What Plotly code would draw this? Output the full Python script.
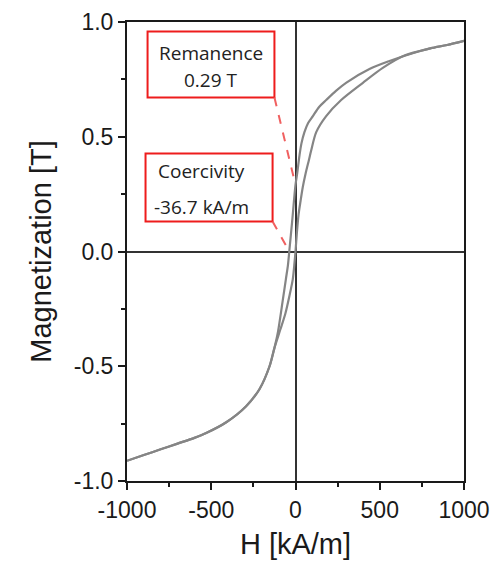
import plotly.graph_objects as go

# Descending branch (outer curve), H in kA/m, M in T
h_desc = [1000, 900, 800, 700, 558, 439, 300, 240, 182, 140, 103, 75, 53, 35, 24, 10, 0,
          -20, -37, -45, -57, -75, -105, -125, -154, -214, -293, -411, -530, -600, -700, -800, -900, -1000]
m_desc = [0.918, 0.90, 0.885, 0.865, 0.83, 0.795, 0.735, 0.70, 0.66, 0.63, 0.59, 0.56, 0.52, 0.47, 0.42, 0.34, 0.29,
          0.13, 0.0, -0.06, -0.12, -0.21, -0.354, -0.42, -0.50, -0.60, -0.674, -0.744, -0.791, -0.812, -0.837, -0.862, -0.887, -0.912]

# Ascending branch (inner curve)
h_asc = [-1000, -900, -800, -700, -600, -530, -411, -293, -214, -154, -125, -90, -60, -35, -16, -6, 0,
         8, 18, 30, 43, 60, 80, 93, 123, 182, 271, 400, 518, 650, 800, 900, 1000]
m_asc = [-0.912, -0.887, -0.862, -0.837, -0.812, -0.791, -0.744, -0.674, -0.60, -0.50, -0.42, -0.34, -0.27, -0.19, -0.12, -0.05, 0.0,
         0.08, 0.16, 0.22, 0.28, 0.34, 0.40, 0.44, 0.52, 0.59, 0.66, 0.735, 0.80, 0.855, 0.885, 0.90, 0.918]

x_ticks = [-1000, -500, 0, 500, 1000]
y_ticks = [-1.0, -0.5, 0.0, 0.5, 1.0]
y_tick_labels = ["-1.0", "-0.5", "0.0", "0.5", "1.0"]

remanence = 0.29
coercivity = -36.7

fig = go.Figure()
for hx, my in [(h_desc, m_desc), (h_asc, m_asc)]:
    fig.add_trace(go.Scatter(x=hx, y=my, mode="lines", line=dict(color="#858585", width=2.2, shape="spline", smoothing=0.8),
                             showlegend=False, hoverinfo="skip"))

red = "#ee1c1c"
# annotation boxes
fig.add_shape(type="rect", x0=-878, x1=-125, y0=0.671, y1=0.959, line=dict(color=red, width=2), fillcolor="white", layer="above")
fig.add_shape(type="rect", x0=-890, x1=-136, y0=0.131, y1=0.427, line=dict(color=red, width=2), fillcolor="white", layer="above")
fig.add_shape(type="line", x0=-125, y0=0.671, x1=0, y1=remanence, line=dict(color="#f06060", width=2, dash="dash"), layer="above")
fig.add_shape(type="line", x0=-136, y0=0.131, x1=coercivity, y1=0, line=dict(color="#f06060", width=2, dash="dash"), layer="above")

tf = dict(family="Open Sans", size=19, color="#222222")
fig.add_annotation(x=-500, y=0.867, text="Remanence", showarrow=False, font=tf, xanchor="center", yanchor="middle")
fig.add_annotation(x=-500, y=0.749, text=f"{remanence:.2f} T", showarrow=False, font=tf, xanchor="center", yanchor="middle")
fig.add_annotation(x=-830, y=0.349, text="Coercivity", showarrow=False, font=tf, xanchor="left", yanchor="middle")
fig.add_annotation(x=-850, y=0.196, text=f"{coercivity} kA/m", showarrow=False, font=tf, xanchor="left", yanchor="middle")

axis_font = dict(family="Liberation Sans", size=23, color="#1a1a1a")
fig.update_xaxes(range=[-1000, 1000], tickvals=x_ticks, ticktext=[str(v) for v in x_ticks],
                 showline=True, mirror=True, linecolor="#1a1a1a", linewidth=2,
                 ticks="outside", ticklen=7, tickwidth=2, tickcolor="#1a1a1a",
                 minor=dict(dtick=250, ticks="outside", ticklen=4, tickwidth=2, tickcolor="#1a1a1a", showgrid=False),
                 showgrid=False, zeroline=True, zerolinecolor="#333333", zerolinewidth=1.5,
                 tickfont=axis_font, title=dict(text="H [kA/m]", font=dict(family="Liberation Sans", size=29, color="#1a1a1a"), standoff=12))
fig.update_yaxes(range=[-1, 1], tickvals=y_ticks, ticktext=y_tick_labels,
                 showline=True, mirror=True, linecolor="#1a1a1a", linewidth=2,
                 ticks="outside", ticklen=7, tickwidth=2, tickcolor="#1a1a1a",
                 minor=dict(dtick=0.25, ticks="outside", ticklen=4, tickwidth=2, tickcolor="#1a1a1a", showgrid=False),
                 showgrid=False, zeroline=True, zerolinecolor="#333333", zerolinewidth=1.5,
                 tickfont=axis_font, title=dict(text="Magnetization [T]", font=dict(family="Liberation Sans", size=29, color="#1a1a1a"), standoff=14))

fig.update_layout(width=496, height=576, margin=dict(l=127, r=32, t=22, b=95, autoexpand=False),
                  plot_bgcolor="white", paper_bgcolor="white")
fig.write_html("out.html")
